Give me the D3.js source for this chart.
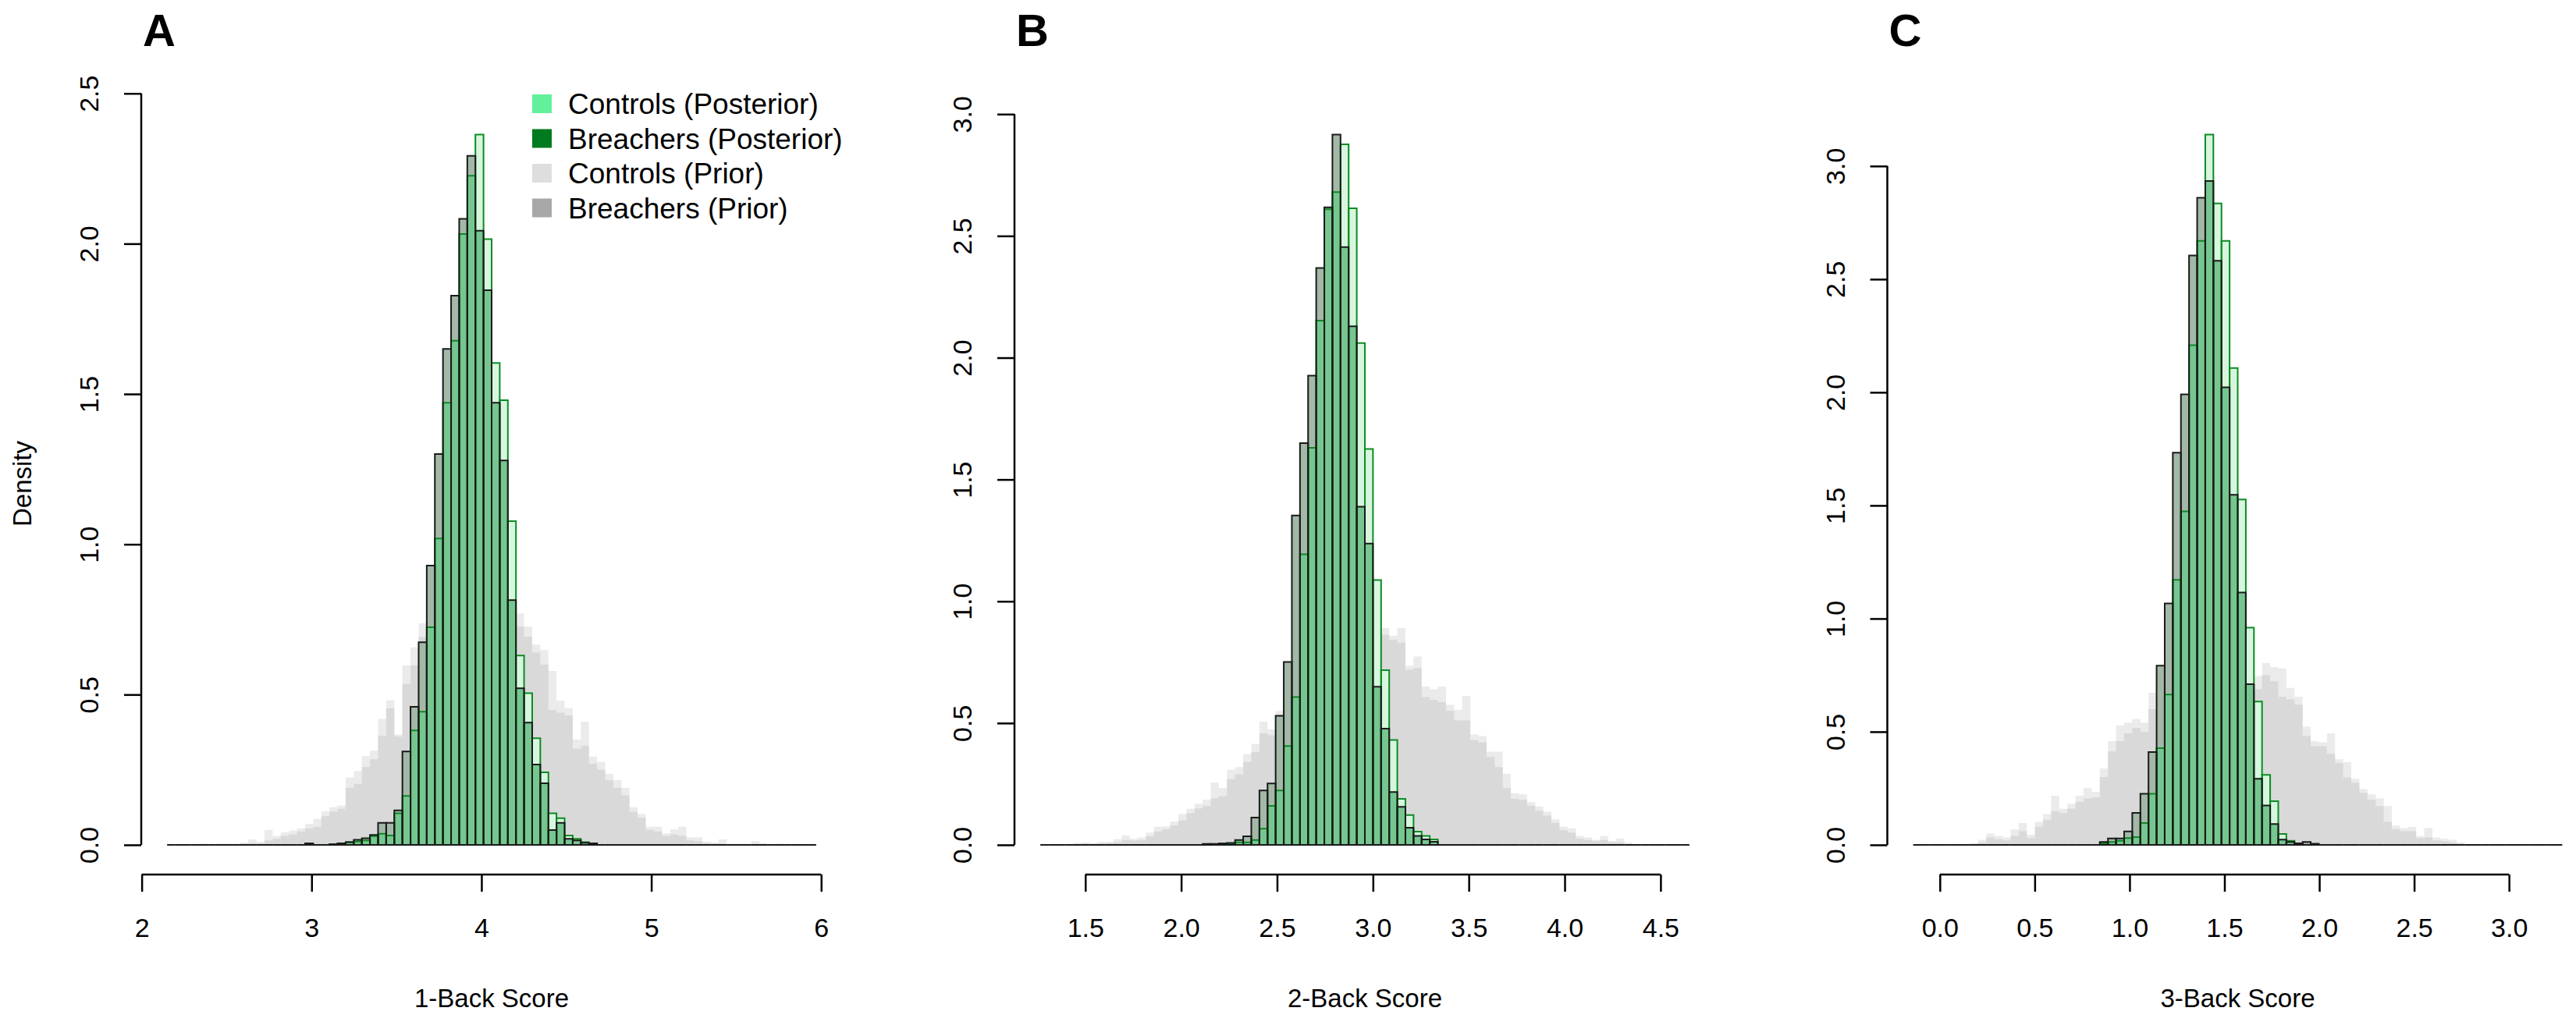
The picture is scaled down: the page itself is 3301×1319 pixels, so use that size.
<!DOCTYPE html>
<html>
<head>
<meta charset="utf-8">
<script src="https://cdn.jsdelivr.net/npm/d3@7"></script>
<style>
  body { margin: 0; background: #fff; }
  svg { display: block; }
</style>
</head>
<body>
<svg id="chart" width="3301" height="1319"></svg>
<script>
// panels and axis text
var panels = ["A", "B", "C"];
var xTitles = ["1-Back Score", "2-Back Score", "3-Back Score"];

// shared histogram breaks (80 bins per panel)
var breakStart = [2.15, 1.266, -0.14];
var breakEnd = [5.97, 4.65, 3.28];

var xTicks = [[2, 3, 4, 5, 6], [1.5, 2, 2.5, 3, 3.5, 4, 4.5], [0, 0.5, 1, 1.5, 2, 2.5, 3]];
var xTickLabels = [["2", "3", "4", "5", "6"],
                   ["1.5", "2.0", "2.5", "3.0", "3.5", "4.0", "4.5"],
                   ["0.0", "0.5", "1.0", "1.5", "2.0", "2.5", "3.0"]];
var yTicks = [[0, 0.5, 1, 1.5, 2, 2.5], [0, 0.5, 1, 1.5, 2, 2.5, 3], [0, 0.5, 1, 1.5, 2, 2.5, 3]];
var yTickLabels = [["0.0", "0.5", "1.0", "1.5", "2.0", "2.5"],
                   ["0.0", "0.5", "1.0", "1.5", "2.0", "2.5", "3.0"],
                   ["0.0", "0.5", "1.0", "1.5", "2.0", "2.5", "3.0"]];

var legendLabels = ["Controls (Posterior)", "Breachers (Posterior)", "Controls (Prior)", "Breachers (Prior)"];
var legendColors = ["#62f19a", "#007a1e", "#dedede", "#a8a8a8"];

// densities, panel A (1-back)
var priorCtrlA = [
  0, 0, 0, 0, 0.004, 0, 0.004, 0.004, 0.004, 0.008,
  0.018, 0.010, 0.049, 0.030, 0.042, 0.047, 0.055, 0.070, 0.086, 0.112,
  0.125, 0.131, 0.224, 0.246, 0.295, 0.313, 0.419, 0.454, 0.367, 0.597,
  0.657, 0.737, 0.76, 0.78, 0.80, 0.79, 0.81, 0.80, 0.82, 0.80,
  0.79, 0.78, 0.77, 0.770, 0.726, 0.666, 0.648, 0.579, 0.480, 0.454,
  0.350, 0.330, 0.294, 0.276, 0.237, 0.216, 0.190, 0.125, 0.103, 0.060,
  0.060, 0.038, 0.051, 0.060, 0.025, 0.025, 0.010, 0.008, 0.018, 0.004,
  0.004, 0.004, 0.012, 0.006, 0, 0.004, 0, 0, 0, 0.004];
var priorBrchA = [
  0, 0, 0, 0, 0, 0, 0, 0, 0, 0.004,
  0.006, 0.005, 0.015, 0.020, 0.030, 0.035, 0.045, 0.055, 0.060, 0.095,
  0.110, 0.120, 0.190, 0.203, 0.259, 0.285, 0.363, 0.481, 0.360, 0.536,
  0.597, 0.692, 0.72, 0.74, 0.75, 0.76, 0.77, 0.76, 0.78, 0.77,
  0.75, 0.74, 0.73, 0.726, 0.692, 0.640, 0.600, 0.449, 0.440, 0.430,
  0.320, 0.410, 0.270, 0.250, 0.215, 0.190, 0.165, 0.110, 0.090, 0.050,
  0.045, 0.030, 0.035, 0.030, 0.015, 0.012, 0.006, 0.004, 0.004, 0,
  0, 0, 0.004, 0, 0, 0, 0, 0, 0, 0];
var postCtrlA = [
  0, 0, 0, 0, 0, 0, 0, 0, 0, 0,
  0, 0, 0, 0, 0, 0, 0, 0, 0, 0,
  0.002, 0.005, 0.009, 0.011, 0.015, 0.029, 0.037, 0.031, 0.105, 0.163,
  0.381, 0.443, 0.724, 1.019, 1.471, 1.677, 2.032, 2.226, 2.363, 2.015,
  1.603, 1.479, 1.077, 0.630, 0.505, 0.355, 0.241, 0.105, 0.089, 0.031,
  0.020, 0.009, 0.005, 0, 0, 0, 0, 0, 0, 0,
  0, 0, 0, 0, 0, 0, 0, 0, 0, 0,
  0, 0, 0, 0, 0, 0, 0, 0, 0, 0];
var postBrchA = [
  0, 0, 0, 0, 0, 0, 0, 0, 0, 0,
  0, 0, 0, 0, 0, 0, 0, 0.005, 0, 0,
  0.002, 0.005, 0.009, 0.017, 0.022, 0.033, 0.073, 0.073, 0.115, 0.311,
  0.459, 0.674, 0.929, 1.300, 1.650, 1.827, 2.083, 2.292, 2.043, 1.845,
  1.471, 1.279, 0.814, 0.521, 0.407, 0.267, 0.205, 0.049, 0.073, 0.020,
  0.015, 0.007, 0.005, 0, 0, 0, 0, 0, 0, 0,
  0, 0, 0, 0, 0, 0, 0, 0, 0, 0,
  0, 0, 0, 0, 0, 0, 0, 0, 0, 0];

// densities, panel B (2-back)
var priorCtrlB = [
  0, 0.004, 0, 0.004, 0.008, 0.010, 0.008, 0.012, 0.012, 0.023,
  0.039, 0.025, 0.030, 0.050, 0.074, 0.076, 0.095, 0.127, 0.148, 0.169,
  0.186, 0.255, 0.234, 0.309, 0.319, 0.372, 0.415, 0.506, 0.474, 0.55,
  0.58, 0.62, 0.65, 0.68, 0.72, 0.75, 0.77, 0.80, 0.82, 0.84,
  0.85, 0.87, 0.890, 0.858, 0.890, 0.735, 0.773, 0.650, 0.639, 0.650,
  0.575, 0.554, 0.612, 0.453, 0.447, 0.383, 0.383, 0.292, 0.212, 0.207,
  0.175, 0.158, 0.137, 0.105, 0.074, 0.068, 0.037, 0.030, 0.021, 0.037,
  0.016, 0.026, 0.009, 0.004, 0.004, 0, 0.004, 0, 0, 0.004];
var priorBrchB = [
  0, 0, 0, 0, 0.004, 0.005, 0.004, 0.006, 0.008, 0.010,
  0.020, 0.018, 0.020, 0.035, 0.055, 0.065, 0.080, 0.100, 0.130, 0.150,
  0.160, 0.191, 0.200, 0.270, 0.290, 0.340, 0.380, 0.458, 0.450, 0.52,
  0.55, 0.58, 0.61, 0.64, 0.67, 0.70, 0.73, 0.75, 0.78, 0.80,
  0.82, 0.84, 0.863, 0.842, 0.830, 0.719, 0.725, 0.607, 0.596, 0.586,
  0.550, 0.511, 0.511, 0.430, 0.420, 0.360, 0.319, 0.234, 0.190, 0.185,
  0.160, 0.140, 0.120, 0.090, 0.060, 0.050, 0.025, 0.020, 0.015, 0.020,
  0.010, 0.010, 0.004, 0, 0, 0, 0, 0, 0, 0];
var postCtrlB = [
  0, 0, 0, 0, 0, 0, 0, 0, 0, 0,
  0, 0, 0, 0, 0, 0, 0, 0, 0, 0,
  0, 0, 0.004, 0.004, 0.010, 0.010, 0.020, 0.066, 0.160, 0.223,
  0.406, 0.607, 1.193, 1.630, 2.152, 2.609, 2.680, 2.876, 2.613, 2.060,
  1.625, 1.087, 0.717, 0.431, 0.189, 0.122, 0.054, 0.037, 0.022, 0,
  0, 0, 0, 0, 0, 0, 0, 0, 0, 0,
  0, 0, 0, 0, 0, 0, 0, 0, 0, 0,
  0, 0, 0, 0, 0, 0, 0, 0, 0, 0];
var postBrchB = [
  0, 0, 0, 0, 0, 0, 0, 0, 0, 0,
  0, 0, 0, 0, 0, 0, 0, 0, 0, 0,
  0.004, 0.004, 0.006, 0.008, 0.020, 0.035, 0.112, 0.223, 0.252, 0.530,
  0.751, 1.352, 1.649, 1.926, 2.368, 2.617, 2.916, 2.454, 2.129, 1.388,
  1.237, 0.649, 0.477, 0.217, 0.156, 0.070, 0.037, 0.022, 0.013, 0,
  0, 0, 0, 0, 0, 0, 0, 0, 0, 0,
  0, 0, 0, 0, 0, 0, 0, 0, 0, 0,
  0, 0, 0, 0, 0, 0, 0, 0, 0, 0];

// densities, panel C (3-back)
var priorCtrlC = [
  0.004, 0, 0.004, 0, 0.004, 0.004, 0.004, 0.008, 0.022, 0.050,
  0.039, 0.033, 0.068, 0.096, 0.045, 0.102, 0.136, 0.217, 0.159, 0.182,
  0.217, 0.251, 0.234, 0.338, 0.458, 0.528, 0.540, 0.557, 0.540, 0.672,
  0.70, 0.72, 0.74, 0.75, 0.76, 0.77, 0.78, 0.79, 0.79, 0.80,
  0.80, 0.79, 0.746, 0.803, 0.786, 0.780, 0.694, 0.654, 0.522, 0.458,
  0.453, 0.493, 0.378, 0.366, 0.292, 0.246, 0.223, 0.206, 0.171, 0.085,
  0.074, 0.079, 0.039, 0.074, 0.033, 0.027, 0.022, 0.011, 0.004, 0.004,
  0, 0, 0.004, 0, 0, 0, 0, 0, 0, 0];
var priorBrchC = [
  0, 0, 0, 0, 0, 0, 0, 0.004, 0.010, 0.033,
  0.025, 0.020, 0.040, 0.060, 0.030, 0.080, 0.110, 0.148, 0.140, 0.160,
  0.190, 0.205, 0.210, 0.300, 0.413, 0.458, 0.493, 0.517, 0.500, 0.600,
  0.65, 0.67, 0.69, 0.70, 0.71, 0.72, 0.73, 0.74, 0.74, 0.75,
  0.75, 0.74, 0.688, 0.751, 0.723, 0.654, 0.643, 0.620, 0.482, 0.436,
  0.436, 0.402, 0.361, 0.298, 0.274, 0.230, 0.200, 0.171, 0.102, 0.070,
  0.060, 0.060, 0.030, 0.033, 0.020, 0.015, 0.010, 0.005, 0, 0,
  0, 0, 0, 0, 0, 0, 0, 0, 0, 0];
var postCtrlC = [
  0, 0, 0, 0, 0, 0, 0, 0, 0, 0,
  0, 0, 0, 0, 0, 0, 0, 0, 0, 0,
  0, 0, 0, 0.007, 0.013, 0.018, 0.030, 0.034, 0.096, 0.226,
  0.427, 0.664, 1.171, 1.474, 2.208, 2.669, 3.139, 2.835, 2.669, 2.107,
  1.526, 0.960, 0.633, 0.309, 0.193, 0.048, 0.018, 0.007, 0, 0,
  0, 0, 0, 0, 0, 0, 0, 0, 0, 0,
  0, 0, 0, 0, 0, 0, 0, 0, 0, 0,
  0, 0, 0, 0, 0, 0, 0, 0, 0, 0];
var postBrchC = [
  0, 0, 0, 0, 0, 0, 0, 0, 0, 0,
  0, 0, 0, 0, 0, 0, 0, 0, 0, 0,
  0, 0, 0, 0.013, 0.028, 0.028, 0.059, 0.141, 0.226, 0.410,
  0.792, 1.067, 1.733, 1.991, 2.605, 2.860, 2.934, 2.581, 2.022, 1.547,
  1.115, 0.710, 0.292, 0.174, 0.092, 0.023, 0.013, 0.007, 0.013, 0.005,
  0, 0, 0, 0, 0, 0, 0, 0, 0, 0,
  0, 0, 0, 0, 0, 0, 0, 0, 0, 0,
  0, 0, 0, 0, 0, 0, 0, 0, 0, 0];

var priorCtrl = [priorCtrlA, priorCtrlB, priorCtrlC];
var priorBrch = [priorBrchA, priorBrchB, priorBrchC];
var postCtrl = [postCtrlA, postCtrlB, postCtrlC];
var postBrch = [postBrchA, postBrchB, postBrchC];

var font = "'Liberation Sans', Arial, Helvetica, sans-serif";
var svg = d3.select("#chart").attr("font-family", font);

// R-like plot region: same for each panel
var plotW = 898, plotTop = 120, plotBottom = 1120;
var panelLeft = [181, 1300, 2418.5];

panels.forEach(function(name, i) {
  var pc = priorCtrl[i], pb = priorBrch[i], qc = postCtrl[i], qb = postBrch[i];
  var n = pc.length;
  var step = (breakEnd[i] - breakStart[i]) / n;
  var edges = d3.range(n + 1).map(function(k) { return breakStart[i] + k * step; });
  var pad = 0.04 * (breakEnd[i] - breakStart[i]);

  var x = d3.scaleLinear()
      .domain([breakStart[i] - pad, breakEnd[i] + pad])
      .range([panelLeft[i], panelLeft[i] + plotW]);
  var ymax = d3.max(qc.concat(qb)) * 1.017;
  var y = d3.scaleLinear()
      .domain([-0.04 * ymax, 1.04 * ymax])
      .range([plotBottom, plotTop]);

  var g = svg.append("g").attr("class", "panel-" + name);

  function stepArea(vals) {
    var pts = vals.map(function(v, k) { return [edges[k], v]; });
    pts.push([edges[n], vals[n - 1]]);
    return d3.area().curve(d3.curveStepAfter)
      .x(function(d) { return x(d[0]); })
      .y0(y(0))
      .y1(function(d) { return y(d[1]); })(pts);
  }
  function barPath(k, v) {
    var x0 = x(edges[k]), x1 = x(edges[k + 1]), yb = y(0), yt = y(v);
    return "M" + x0 + "," + yb + "V" + yt + "H" + x1 + "V" + yb + "Z";
  }

  // priors
  g.append("path").attr("d", stepArea(pc.map(function(v, k) { return Math.max(v, pb[k]); })))
    .attr("fill", "#ebebeb");
  g.append("path").attr("d", stepArea(pc.map(function(v, k) { return Math.min(v, pb[k]); })))
    .attr("fill", "#d9d9d9");

  // posteriors: fills
  g.append("path").attr("d", stepArea(qc)).attr("fill", "#d8f6df");
  g.append("path").attr("d", stepArea(qb)).attr("fill", "#a3b8a7");
  g.append("path").attr("d", stepArea(qc.map(function(v, k) { return Math.min(v, qb[k]); })))
    .attr("fill", "#76c690");

  // posteriors: borders
  g.append("g").selectAll("path").data(qc).join("path")
    .attr("d", function(v, k) { return barPath(k, v); })
    .attr("fill", "none").attr("stroke", "#0b8c22").attr("stroke-width", 2);
  g.append("g").selectAll("path").data(qb).join("path")
    .attr("d", function(v, k) { return barPath(k, v); })
    .attr("fill", "none").attr("stroke", "#1a1a1a").attr("stroke-width", 2);

  // x axis
  var xt = xTicks[i];
  var gx = g.append("g")
      .attr("transform", "translate(0," + (plotBottom + 1) + ")")
      .call(d3.axisBottom(x).tickValues(xt).tickSize(22).tickPadding(34)
        .tickFormat(function(d, j) { return xTickLabels[i][j]; }));
  gx.attr("font-family", font).attr("font-size", 34);
  gx.select(".domain").remove();
  gx.append("line")
    .attr("x1", x(xt[0])).attr("x2", x(xt[xt.length - 1]))
    .attr("stroke", "#000").attr("stroke-width", 2.5);
  gx.selectAll(".tick line").attr("stroke", "#000").attr("stroke-width", 2.5);
  gx.selectAll(".tick text").attr("fill", "#000");

  // y axis
  var yt = yTicks[i];
  var gy = g.append("g")
      .attr("transform", "translate(" + panelLeft[i] + ",0)")
      .call(d3.axisLeft(y).tickValues(yt).tickSize(22)
        .tickFormat(function(d, j) { return yTickLabels[i][j]; }));
  gy.attr("font-family", font).attr("font-size", 34);
  gy.select(".domain").remove();
  gy.append("line")
    .attr("y1", y(yt[0])).attr("y2", y(yt[yt.length - 1]))
    .attr("stroke", "#000").attr("stroke-width", 2.5);
  gy.selectAll(".tick line").attr("stroke", "#000").attr("stroke-width", 2.5);
  gy.selectAll(".tick text")
    .attr("fill", "#000")
    .attr("transform", "rotate(-90)")
    .attr("x", 0).attr("y", -55).attr("dy", null)
    .attr("text-anchor", "middle");

  // titles
  g.append("text")
    .attr("x", panelLeft[i] + plotW / 2).attr("y", 1291)
    .attr("text-anchor", "middle").attr("font-size", 33)
    .text(xTitles[i]);
  g.append("text")
    .attr("x", panelLeft[i] + 2).attr("y", 59)
    .attr("font-size", 58).attr("font-weight", "bold")
    .text(name);

  if (i === 0) {
    g.append("text")
      .attr("transform", "translate(40," + ((plotTop + plotBottom) / 2) + ") rotate(-90)")
      .attr("text-anchor", "middle").attr("font-size", 33)
      .text("Density");

    var lg = g.append("g").attr("transform", "translate(" + (panelLeft[i] + 501) + ",133)");
    var rows = lg.selectAll("g").data(legendLabels).join("g")
      .attr("transform", function(d, j) { return "translate(0," + (j * 44.5) + ")"; });
    rows.append("rect")
      .attr("x", 0).attr("y", -12).attr("width", 25).attr("height", 24)
      .attr("fill", function(d, j) { return legendColors[j]; });
    rows.append("text")
      .attr("x", 46).attr("y", 13)
      .attr("font-size", 37)
      .text(function(d) { return d; });
  }
});
</script>
</body>
</html>
